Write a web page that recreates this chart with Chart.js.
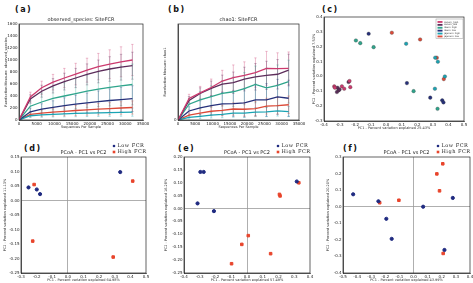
<!DOCTYPE html>
<html>
<head>
<meta charset="utf-8">
<script src="https://cdn.jsdelivr.net/npm/chart.js@4.4.1/dist/chart.umd.min.js"></script>
<style>
body { margin: 0; background: #fff; width: 473px; height: 283px; position: relative; overflow: hidden; }
canvas { position: absolute; }
.lab { position: absolute; font: bold 8px "DejaVu Sans", sans-serif; letter-spacing: 1.5px; color: #111; }
</style>
</head>
<body>
<div class="lab" style="left:15px;top:5px">(a)</div>
<div class="lab" style="left:168px;top:5px">(b)</div>
<div class="lab" style="left:322px;top:5px">(c)</div>
<div class="lab" style="left:24px;top:144px">(d)</div>
<div class="lab" style="left:178px;top:144px">(e)</div>
<div class="lab" style="left:343px;top:144px">(f)</div>

<canvas id="chartA" width="155" height="140" style="left:0;top:0"></canvas>
<canvas id="chartB" width="155" height="140" style="left:155px;top:0"></canvas>
<canvas id="chartC" width="163" height="140" style="left:310px;top:0"></canvas>
<canvas id="chartD" width="160" height="143" style="left:0;top:140px"></canvas>
<canvas id="chartE" width="165" height="143" style="left:155px;top:140px"></canvas>
<canvas id="chartF" width="165" height="143" style="left:310px;top:140px"></canvas>

<script>
// ---- data ----
const depth = [10, 3200, 6400, 9600, 12800, 16000, 19200, 22400, 25600, 28800, 32000];
const groups = ['cecum_high', 'cecum_low', 'ileum_high', 'ileum_low', 'jejunum_high', 'jejunum_low'];
const groupColors = ['#cc3a6e', '#5c2c5a', '#2fa58c', '#26307a', '#1aa3b3', '#dc4a38'];

// observed_species means / sd
const obsMean = [
    [0, 384, 537, 630, 700, 765, 830, 890, 930, 970, 1000],
    [0, 350, 480, 570, 640, 700, 760, 810, 850, 880, 905],
    [0, 230, 300, 360, 400, 440, 480, 515, 545, 570, 592],
    [0, 137, 180, 210, 240, 265, 285, 305, 325, 340, 356],
    [0, 71, 85, 95, 103, 110, 115, 120, 124, 128, 131],
    [0, 93, 115, 130, 145, 158, 170, 180, 190, 200, 208]
];
const obsErr = [
    [0, 80, 110, 130, 160, 180, 200, 220, 240, 250, 260],
    [0, 70, 100, 120, 140, 160, 175, 190, 205, 215, 225],
    [0, 100, 150, 190, 220, 250, 270, 290, 310, 330, 340],
    [0, 60, 90, 110, 130, 150, 165, 180, 195, 205, 215],
    [0, 30, 40, 45, 50, 55, 58, 60, 63, 65, 68],
    [0, 40, 55, 65, 75, 85, 90, 95, 100, 105, 110]
];

// chao1 means / sd
const chaoMean = [
    [0, 760, 960, 1150, 1380, 1500, 1580, 1680, 1830, 1820, 1830],
    [0, 690, 940, 1120, 1270, 1320, 1450, 1530, 1580, 1620, 1770],
    [0, 560, 710, 830, 940, 1000, 1110, 1260, 1140, 1230, 1360],
    [0, 320, 430, 510, 570, 580, 610, 710, 710, 820, 770],
    [0, 90, 130, 170, 200, 240, 240, 280, 290, 320, 300],
    [0, 170, 240, 310, 340, 390, 380, 400, 490, 510, 540]
];
const chaoErr = [
    [0, 150, 230, 300, 380, 450, 480, 520, 600, 560, 580],
    [0, 140, 200, 260, 320, 380, 420, 470, 500, 520, 560],
    [0, 200, 300, 380, 450, 520, 570, 650, 700, 720, 760],
    [0, 150, 250, 330, 400, 450, 500, 560, 580, 620, 640],
    [0, 50, 80, 100, 120, 140, 150, 160, 170, 180, 180],
    [0, 80, 120, 160, 190, 220, 240, 260, 280, 300, 310]
];

// (c) PCoA by site and FCR
const siteX = [
    [-0.334, -0.330, -0.285, -0.270, -0.236, -0.231],
    [-0.313, -0.317, -0.306, -0.242, -0.300],
    [-0.195, -0.167, -0.081, 0.176, 0.330],
    [-0.113, 0.133, 0.283, 0.360, 0.368],
    [0.128, 0.315, 0.332, 0.377, 0.313],
    [0.036, 0.218, 0.325, 0.370]
];
const siteY = [
    [-0.067, -0.076, -0.067, -0.083, -0.031, -0.072],
    [-0.076, -0.105, -0.094, -0.038, -0.088],
    [0.242, 0.224, 0.197, -0.099, -0.218],
    [0.287, -0.045, -0.143, -0.161, -0.175],
    [0.220, 0.126, 0.099, 0.000, -0.083],
    [0.294, 0.249, 0.126, -0.018]
];

// (d) (e) (f) PCoA Low / High FCR
const fcrLabels = ['Low FCR', 'High FCR'];
const fcrColors = ['#1f2a80', '#e8452c'];
const dLowX = [-0.252, -0.199, -0.178, 0.335];
const dLowY = [0.045, 0.038, 0.022, 0.098];
const dHighX = [-0.216, -0.225, 0.415, 0.290];
const dHighY = [0.055, -0.140, 0.067, -0.195];
const eLowX = [-0.296, -0.275, -0.314, -0.210, 0.316];
const eLowY = [0.142, 0.142, 0.020, -0.010, 0.105];
const eHighX = [0.329, 0.206, 0.210, 0.008, -0.033, -0.098, 0.150];
const eHighY = [0.100, 0.055, 0.049, -0.105, -0.139, -0.214, -0.175];
const fLowX = [-0.428, -0.249, -0.193, -0.155, 0.068, 0.278, 0.219];
const fLowY = [0.075, 0.033, -0.073, -0.194, 0.000, 0.053, -0.261];
const fHighX = [-0.240, -0.104, 0.207, 0.165, 0.184, 0.210];
const fHighY = [0.024, 0.039, 0.259, 0.198, 0.096, -0.282];

// ---- helpers ----
const SANS = '"DejaVu Sans", sans-serif';
const SERIF = '"DejaVu Serif", serif';

const framePlugin = {
    id: 'frame',
    afterDatasetsDraw(chart) {
        const a = chart.chartArea, ctx = chart.ctx;
        ctx.save();
        ctx.strokeStyle = '#222';
        ctx.lineWidth = 0.7;
        ctx.strokeRect(a.left, a.top, a.right - a.left, a.bottom - a.top);
        ctx.restore();
    }
};

const errPlugin = {
    id: 'errBars',
    beforeDatasetsDraw(chart) {
        const ctx = chart.ctx, xs = chart.scales.x, ys = chart.scales.y;
        ctx.save();
        chart.data.datasets.forEach(ds => {
            if (!ds.err) return;
            ctx.strokeStyle = ds.borderColor;
            ctx.globalAlpha = 0.55;
            ctx.lineWidth = 0.6;
            ds.data.forEach((p, i) => {
                const e = ds.err[i];
                if (!e) return;
                const px = xs.getPixelForValue(p.x);
                const y1 = ys.getPixelForValue(p.y - e), y2 = ys.getPixelForValue(p.y + e);
                ctx.beginPath();
                ctx.moveTo(px, y1); ctx.lineTo(px, y2);
                ctx.moveTo(px - 1.2, y1); ctx.lineTo(px + 1.2, y1);
                ctx.moveTo(px - 1.2, y2); ctx.lineTo(px + 1.2, y2);
                ctx.stroke();
            });
        });
        ctx.restore();
    }
};

// legend drawn on canvas, either boxed inside the plot or above it
const legendPlugin = {
    id: 'miniLegend',
    afterDraw(chart, args, o) {
        if (!o.mode) return;
        const ctx = chart.ctx, a = chart.chartArea;
        const sets = chart.data.datasets;
        ctx.save();
        if (o.mode === 'box') {
            const w = 27, rowH = 2.9, x0 = a.right - w - 1, y0 = a.top + 2;
            ctx.fillStyle = '#fff';
            ctx.strokeStyle = '#999';
            ctx.lineWidth = 0.5;
            ctx.fillRect(x0, y0, w, rowH * sets.length + 2);
            ctx.strokeRect(x0, y0, w, rowH * sets.length + 2);
            ctx.font = '2.4px ' + SANS;
            ctx.textBaseline = 'middle';
            sets.forEach((ds, i) => {
                const cy = y0 + 1.5 + rowH * i + rowH / 2;
                ctx.fillStyle = ds.backgroundColor;
                ctx.fillRect(x0 + 1.5, cy - 0.9, 5, 1.8);
                ctx.fillStyle = '#333';
                ctx.fillText(ds.label, x0 + 8, cy);
            });
        } else {
            const mx = a.right - 32;
            ctx.font = '5px ' + SERIF;
            ctx.textBaseline = 'middle';
            sets.forEach((ds, i) => {
                const cy = a.top - 11 + i * 6;
                ctx.fillStyle = ds.backgroundColor;
                if (ds.pointStyle === 'rect') ctx.fillRect(mx - 1.3, cy - 1.3, 2.6, 2.6);
                else { ctx.beginPath(); ctx.arc(mx, cy, 1.3, 0, Math.PI * 2); ctx.fill(); }
                ctx.fillStyle = '#222';
                ctx.letterSpacing = '0.5px';
                ctx.fillText(ds.label, mx + 3.5, cy);
            });
        }
        ctx.restore();
    }
};

function axis(min, max, step, dec, title, boxSize, horiz, zeroLine, hideFn) {
    return {
        type: 'linear',
        min: min, max: max,
        afterFit(s) { if (horiz) s.height = boxSize; else s.width = boxSize; },
        ticks: {
            stepSize: step,
            font: { size: 4, family: SANS },
            color: '#222',
            padding: 1.5,
            maxRotation: 0,
            autoSkip: false,
            callback(v) {
                if (hideFn && hideFn(v)) return '';
                return Math.abs(v) < 1e-9 ? (0).toFixed(dec) : v.toFixed(dec);
            }
        },
        grid: {
            display: !!zeroLine,
            drawTicks: false,
            color: ctx => (Math.abs(ctx.tick.value) < 1e-9 ? '#9a9a9a' : 'rgba(0,0,0,0)'),
            lineWidth: 0.8
        },
        border: { display: true, color: '#222', width: 0.7 },
        title: { display: true, text: title, font: { size: 3.5, family: SANS }, color: '#333', padding: 0.5 }
    };
}

function baseOptions(pad, titleText, scales, legendMode) {
    return {
        responsive: false,
        animation: false,
        devicePixelRatio: 1,
        layout: { padding: pad },
        scales: scales,
        plugins: {
            legend: { display: false },
            tooltip: { enabled: false },
            title: {
                display: !!titleText,
                text: titleText,
                fullSize: false,
                font: { size: 5, family: SANS, weight: 'normal' },
                color: '#222',
                padding: { top: 0, bottom: 1 }
            },
            miniLegend: { mode: legendMode }
        }
    };
}

function rarefactionChart(id, means, errs, yMax, yTitle, titleText, pad, yW, hideFn) {
    new Chart(document.getElementById(id), {
        type: 'scatter',
        data: {
            datasets: groups.map((g, k) => ({
                label: g,
                data: depth.map((d, i) => ({ x: d, y: means[k][i] })),
                err: errs[k],
                borderColor: groupColors[k],
                backgroundColor: groupColors[k],
                showLine: true,
                borderWidth: 1.3,
                pointRadius: 0,
                tension: 0
            }))
        },
        options: baseOptions(pad, titleText, {
            x: axis(0, 35000, 5000, 0, 'Sequences Per Sample', 10, true),
            y: axis(0, yMax, yMax > 2000 ? 500 : 200, 0, yTitle, yW, false, false, hideFn)
        }),
        plugins: [errPlugin, framePlugin]
    });
}

rarefactionChart('chartA', obsMean, obsErr, 1600, 'Rarefaction Measure: observed_species',
    'observed_species: SiteFCR', { left: 3, right: 12, top: 17, bottom: 10 }, 16);
rarefactionChart('chartB', chaoMean, chaoErr, 3400, 'Rarefaction Measure: chao1',
    'chao1: SiteFCR', { left: 7, right: 11, top: 17, bottom: 10 }, 16, v => v % 500 !== 0);

// (c)
new Chart(document.getElementById('chartC'), {
    type: 'scatter',
    data: {
        datasets: groups.map((g, k) => ({
            label: g,
            data: siteX[k].map((x, i) => ({ x: x, y: siteY[k][i] })),
            backgroundColor: groupColors[k],
            borderColor: '#333',
            borderWidth: 0.3,
            pointRadius: 1.8
        }))
    },
    options: baseOptions({ left: 1, right: 9, top: 17, bottom: 9 }, '', {
        x: axis(-0.4, 0.5, 0.1, 1, 'PC1 - Percent variation explained 25.43%', 10, true),
        y: axis(-0.3, 0.4, 0.1, 1, 'PC2 - Percent variation explained 7.53%', 13, false)
    }, 'box'),
    plugins: [framePlugin, legendPlugin]
});

function fcrChart(id, lowX, lowY, highX, highY, xr, yr, xTitle, yTitle, pad, yW) {
    new Chart(document.getElementById(id), {
        type: 'scatter',
        data: {
            datasets: [
                {
                    label: fcrLabels[0],
                    data: lowX.map((x, i) => ({ x: x, y: lowY[i] })),
                    backgroundColor: fcrColors[0], borderColor: fcrColors[0],
                    pointStyle: 'circle', pointRadius: 1.6
                },
                {
                    label: fcrLabels[1],
                    data: highX.map((x, i) => ({ x: x, y: highY[i] })),
                    backgroundColor: fcrColors[1], borderColor: fcrColors[1],
                    pointStyle: 'rect', pointRadius: 1.8
                }
            ]
        },
        options: baseOptions(pad, 'PCoA - PC1 vs PC2', {
            x: axis(xr[0], xr[1], xr[2], 1, xTitle, 10, true, true),
            y: axis(yr[0], yr[1], yr[2], yr[3], yTitle, yW, false, true)
        }, 'above'),
        plugins: [framePlugin, legendPlugin]
    });
}

fcrChart('chartD', dLowX, dLowY, dHighX, dHighY, [-0.3, 0.5, 0.1], [-0.25, 0.15, 0.05, 2],
    'PC1 - Percent variation explained 64.98%', 'PC2 - Percent variation explained 11.13%',
    { left: 2, right: 14, top: 10, bottom: 0 }, 19);
fcrChart('chartE', eLowX, eLowY, eHighX, eHighY, [-0.4, 0.4, 0.1], [-0.25, 0.2, 0.05, 2],
    'PC1 - Percent variation explained 57.49%', 'PC2 - Percent variation explained 16.28%',
    { left: 8, right: 10, top: 10, bottom: 0 }, 21);
fcrChart('chartF', fLowX, fLowY, fHighX, fHighY, [-0.5, 0.4, 0.1], [-0.4, 0.3, 0.1, 1],
    'PC1 - Percent variation explained 43.99%', 'PC2 - Percent variation explained 20.20%',
    { left: 15, right: 4, top: 10, bottom: 0 }, 18);
</script>
</body>
</html>
